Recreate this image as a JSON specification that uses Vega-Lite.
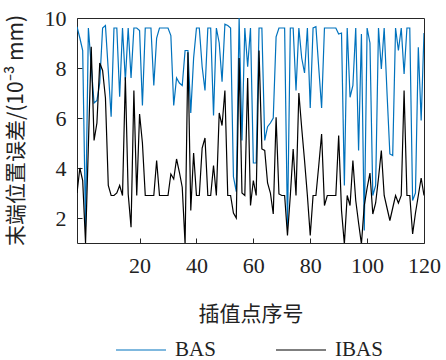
{
  "$schema": "https://vega.github.io/schema/vega-lite/v6.json",
  "width": 347,
  "height": 225,
  "autosize": "none",
  "padding": {"left": 77, "top": 18, "right": 22, "bottom": 117},
  "background": "white",
  "data": {"values": [
    {"x": -2, "BAS": 9.65, "IBAS": 3.0},
    {"x": -1, "BAS": 9.2, "IBAS": 4.0},
    {"x": 0, "BAS": 8.7, "IBAS": 3.5},
    {"x": 1, "BAS": 1.65, "IBAS": 1.0},
    {"x": 2, "BAS": 9.6, "IBAS": 4.9},
    {"x": 3, "BAS": 8.1, "IBAS": 8.85},
    {"x": 4, "BAS": 6.6, "IBAS": 5.1},
    {"x": 5, "BAS": 6.7, "IBAS": 5.8},
    {"x": 6, "BAS": 7.4, "IBAS": 8.2},
    {"x": 7, "BAS": 9.6, "IBAS": 7.9},
    {"x": 8, "BAS": 9.7, "IBAS": 6.8},
    {"x": 9, "BAS": 7.9, "IBAS": 3.3},
    {"x": 10, "BAS": 6.05, "IBAS": 2.9},
    {"x": 11, "BAS": 9.6, "IBAS": 2.9},
    {"x": 12, "BAS": 9.6, "IBAS": 3.0},
    {"x": 13, "BAS": 6.85, "IBAS": 3.3},
    {"x": 14, "BAS": 9.6, "IBAS": 2.9},
    {"x": 15, "BAS": 7.5, "IBAS": 7.63},
    {"x": 16, "BAS": 9.6, "IBAS": 2.96},
    {"x": 17, "BAS": 7.6, "IBAS": 1.63},
    {"x": 18, "BAS": 9.6, "IBAS": 7.1},
    {"x": 19, "BAS": 9.6, "IBAS": 2.9},
    {"x": 20, "BAS": 9.5, "IBAS": 6.16},
    {"x": 21, "BAS": 6.5, "IBAS": 5.0},
    {"x": 22, "BAS": 9.6, "IBAS": 2.9},
    {"x": 23, "BAS": 9.6, "IBAS": 2.9},
    {"x": 24, "BAS": 9.6, "IBAS": 2.9},
    {"x": 25, "BAS": 7.3, "IBAS": 2.9},
    {"x": 26, "BAS": 9.2, "IBAS": 4.3},
    {"x": 27, "BAS": 9.6, "IBAS": 2.9},
    {"x": 28, "BAS": 9.6, "IBAS": 2.9},
    {"x": 29, "BAS": 9.6, "IBAS": 2.9},
    {"x": 30, "BAS": 9.6, "IBAS": 2.9},
    {"x": 31, "BAS": 9.3, "IBAS": 3.76},
    {"x": 32, "BAS": 6.5, "IBAS": 3.56},
    {"x": 33, "BAS": 7.6, "IBAS": 4.36},
    {"x": 34, "BAS": 7.4, "IBAS": 3.83},
    {"x": 35, "BAS": 7.3, "IBAS": 3.23},
    {"x": 36, "BAS": 8.7, "IBAS": 0.96},
    {"x": 37, "BAS": 8.7, "IBAS": 8.63},
    {"x": 38, "BAS": 6.2, "IBAS": 2.3},
    {"x": 39, "BAS": 8.4, "IBAS": 4.6},
    {"x": 40, "BAS": 9.6, "IBAS": 2.9},
    {"x": 41, "BAS": 9.6, "IBAS": 2.9},
    {"x": 42, "BAS": 8.05, "IBAS": 4.8},
    {"x": 43, "BAS": 7.1, "IBAS": 5.2},
    {"x": 44, "BAS": 9.6, "IBAS": 2.9},
    {"x": 45, "BAS": 9.6, "IBAS": 2.9},
    {"x": 46, "BAS": 6.1, "IBAS": 4.1},
    {"x": 47, "BAS": 9.6, "IBAS": 2.9},
    {"x": 48, "BAS": 9.0, "IBAS": 6.2},
    {"x": 49, "BAS": 7.45, "IBAS": 5.7},
    {"x": 50, "BAS": 9.75, "IBAS": 7.1},
    {"x": 51, "BAS": 9.7, "IBAS": 2.9},
    {"x": 52, "BAS": 9.6, "IBAS": 2.9},
    {"x": 53, "BAS": 3.65, "IBAS": 2.2},
    {"x": 54, "BAS": 3.05, "IBAS": 2.0},
    {"x": 55, "BAS": 10.0, "IBAS": 8.4},
    {"x": 56, "BAS": 5.1, "IBAS": 3.0},
    {"x": 57, "BAS": 9.6, "IBAS": 2.9},
    {"x": 58, "BAS": 8.05, "IBAS": 7.6},
    {"x": 59, "BAS": 9.6, "IBAS": 2.5},
    {"x": 60, "BAS": 4.2, "IBAS": 3.5},
    {"x": 61, "BAS": 4.2, "IBAS": 2.9},
    {"x": 62, "BAS": 9.6, "IBAS": 8.7},
    {"x": 63, "BAS": 9.6, "IBAS": 4.76},
    {"x": 64, "BAS": 5.1, "IBAS": 4.7},
    {"x": 65, "BAS": 5.65, "IBAS": 3.4},
    {"x": 66, "BAS": 5.8, "IBAS": 3.0},
    {"x": 67, "BAS": 6.0, "IBAS": 2.16},
    {"x": 68, "BAS": 9.25, "IBAS": 6.03},
    {"x": 69, "BAS": 9.6, "IBAS": 2.96},
    {"x": 70, "BAS": 9.6, "IBAS": 2.9},
    {"x": 71, "BAS": 9.6, "IBAS": 2.9},
    {"x": 72, "BAS": 1.65, "IBAS": 1.3},
    {"x": 73, "BAS": 9.6, "IBAS": 2.9},
    {"x": 74, "BAS": 9.6, "IBAS": 4.76},
    {"x": 75, "BAS": 7.1, "IBAS": 2.9},
    {"x": 76, "BAS": 9.6, "IBAS": 7.0},
    {"x": 77, "BAS": 8.4, "IBAS": 5.6},
    {"x": 78, "BAS": 7.8, "IBAS": 4.3},
    {"x": 79, "BAS": 9.6, "IBAS": 2.9},
    {"x": 80, "BAS": 6.4, "IBAS": 1.3},
    {"x": 81, "BAS": 9.6, "IBAS": 2.9},
    {"x": 82, "BAS": 9.65, "IBAS": 2.9},
    {"x": 83, "BAS": 8.0, "IBAS": 4.1},
    {"x": 84, "BAS": 6.4, "IBAS": 5.36},
    {"x": 85, "BAS": 9.6, "IBAS": 2.5},
    {"x": 86, "BAS": 9.6, "IBAS": 2.9},
    {"x": 87, "BAS": 9.6, "IBAS": 2.9},
    {"x": 88, "BAS": 9.6, "IBAS": 2.9},
    {"x": 89, "BAS": 9.6, "IBAS": 2.9},
    {"x": 90, "BAS": 9.36, "IBAS": 5.3},
    {"x": 91, "BAS": 9.4, "IBAS": 2.3},
    {"x": 92, "BAS": 3.3, "IBAS": 0.96},
    {"x": 93, "BAS": 9.6, "IBAS": 2.9},
    {"x": 94, "BAS": 6.83, "IBAS": 2.5},
    {"x": 95, "BAS": 7.3, "IBAS": 4.3},
    {"x": 96, "BAS": 9.6, "IBAS": 2.7},
    {"x": 97, "BAS": 4.7, "IBAS": 1.8},
    {"x": 98, "BAS": 9.36, "IBAS": 0.96},
    {"x": 99, "BAS": 1.5, "IBAS": 2.5},
    {"x": 100, "BAS": 9.6, "IBAS": 3.2},
    {"x": 101, "BAS": 9.0, "IBAS": 3.8},
    {"x": 102, "BAS": 2.9, "IBAS": 2.16},
    {"x": 103, "BAS": 3.3, "IBAS": 2.6},
    {"x": 104, "BAS": 9.6, "IBAS": 3.6},
    {"x": 105, "BAS": 7.96, "IBAS": 4.7},
    {"x": 106, "BAS": 9.6, "IBAS": 2.9},
    {"x": 107, "BAS": 7.0, "IBAS": 2.4},
    {"x": 108, "BAS": 4.56, "IBAS": 1.9},
    {"x": 109, "BAS": 4.5, "IBAS": 2.4},
    {"x": 110, "BAS": 9.6, "IBAS": 2.9},
    {"x": 111, "BAS": 8.7, "IBAS": 2.6},
    {"x": 112, "BAS": 9.6, "IBAS": 2.9},
    {"x": 113, "BAS": 7.76, "IBAS": 7.1},
    {"x": 114, "BAS": 9.6, "IBAS": 2.9},
    {"x": 115, "BAS": 9.6, "IBAS": 2.9},
    {"x": 116, "BAS": 2.7, "IBAS": 1.36},
    {"x": 117, "BAS": 3.0, "IBAS": 2.2},
    {"x": 118, "BAS": 8.83, "IBAS": 2.9},
    {"x": 119, "BAS": 5.9, "IBAS": 3.6},
    {"x": 120, "BAS": 9.4, "IBAS": 2.9}
  ]},
  "transform": [{"fold": ["BAS", "IBAS"], "as": ["series", "value"]}],
  "mark": {"type": "line", "strokeWidth": 1.2, "clip": true},
  "encoding": {
    "x": {
      "field": "x", "type": "quantitative",
      "scale": {"domain": [-2, 120], "nice": false, "zero": false},
      "axis": {
        "values": [20, 40, 60, 80, 100, 120],
        "title": "插值点序号",
        "labelPadding": 17,
        "labelFlush": false,
        "titleY": 71,
        "titleBaseline": "middle"
      }
    },
    "y": {
      "field": "value", "type": "quantitative",
      "scale": {"domain": [1, 10], "nice": false, "zero": false},
      "axis": {
        "values": [2, 4, 6, 8, 10],
        "title": "末端位置误差/(10⁻³ mm)",
        "labelPadding": 16,
        "titleX": -61,
        "titleY": 112,
        "titleAlign": "center",
        "titleBaseline": "middle",
        "titleAngle": 270,
        "titleFontSize": 21
      }
    },
    "color": {
      "field": "series", "type": "nominal",
      "scale": {"domain": ["BAS", "IBAS"], "range": ["#0072BD", "#000000"]},
      "legend": {
        "title": null,
        "orient": "none",
        "legendX": 38,
        "legendY": 306,
        "direction": "horizontal",
        "symbolType": "stroke",
        "symbolSize": 2500,
        "symbolStrokeWidth": 1.2,
        "labelOffset": 8,
        "columnPadding": 57,
        "padding": 0,
        "labelFont": "Liberation Serif",
        "labelFontSize": 21,
        "labelColor": "#222222"
      }
    }
  },
  "config": {
    "view": {"stroke": "#262626", "strokeWidth": 1},
    "axis": {
      "grid": false,
      "domain": false,
      "tickColor": "#262626",
      "tickSize": -5,
      "tickWidth": 1,
      "labelFont": "Liberation Serif",
      "labelFontSize": 22,
      "labelColor": "#222222",
      "titleFont": "Noto Sans CJK SC",
      "titleFontWeight": "normal",
      "titleFontSize": 21,
      "titleColor": "#222222"
    }
  }
}
